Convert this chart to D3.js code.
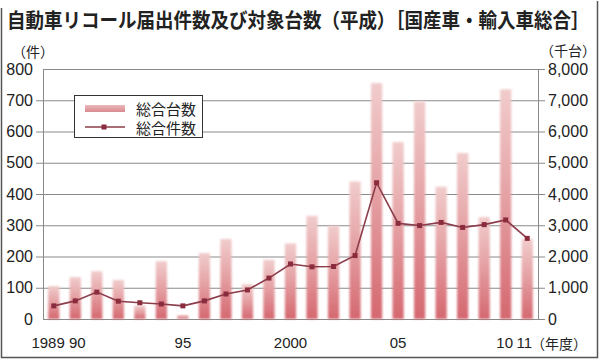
<!DOCTYPE html>
<html><head><meta charset="utf-8">
<script src="https://cdn.jsdelivr.net/npm/d3@7/dist/d3.min.js"></script>
<style>
html,body{margin:0;padding:0;background:#fff;}
svg{display:block;}
text{font-family:"Liberation Sans Narrow","Liberation Sans","Noto Sans CJK JP",sans-serif;fill:#222;}
.cjk{font-family:"Noto Sans CJK JP",sans-serif;}
</style></head>
<body>
<svg id="chart" width="600" height="360"></svg>
<script>
const years = [1989,1990,1991,1992,1993,1994,1995,1996,1997,1998,1999,2000,2001,2002,2003,2004,2005,2006,2007,2008,2009,2010,2011];
const yearLabels = ["1989","90","","","","","95","","","","","2000","","","","","05","","","","","10","11"];
// 総合台数 (thousand units, right axis)
const units = [1050,1340,1530,1250,430,1850,130,2110,2560,1110,1890,2420,3300,2980,4400,7550,5660,6960,4230,5310,3260,7350,2560];
// 総合件数 (cases, left axis)
const cases = [42,58,86,57,52,48,42,58,80,93,131,176,167,168,203,436,306,299,309,293,302,317,258];
const leftTicks = [0,100,200,300,400,500,600,700,800];
const rightTicks = [0,1000,2000,3000,4000,5000,6000,7000,8000];
const title = "自動車リコール届出件数及び対象台数（平成）［国産車・輸入車総合］";

const svg = d3.select("#chart");
const L = 43, R = 538, T = 69, B = 319;

const x = d3.scaleBand().domain(years).range([L, R]).paddingInner(0.48).paddingOuter(0.24);
const yL = d3.scaleLinear().domain([0, 800]).range([B, T]);
const yR = d3.scaleLinear().domain([0, 8000]).range([B, T]);

const defs = svg.append("defs");
const grad = defs.append("linearGradient").attr("id","barGrad").attr("x1",0).attr("y1",0).attr("x2",0).attr("y2",1);
grad.append("stop").attr("offset","0%").attr("stop-color","#f1cccc");
grad.append("stop").attr("offset","45%").attr("stop-color","#e5a3a6");
grad.append("stop").attr("offset","100%").attr("stop-color","#d56870");
const gradH = defs.append("linearGradient").attr("id","legGrad").attr("x1",0).attr("y1",0).attr("x2",0).attr("y2",1);
gradH.append("stop").attr("offset","0%").attr("stop-color","#eab8ba");
gradH.append("stop").attr("offset","100%").attr("stop-color","#d98a90");
const glow = defs.append("filter").attr("id","soft").attr("x","-50%").attr("y","-10%").attr("width","200%").attr("height","120%");
glow.append("feGaussianBlur").attr("stdDeviation",0.8);

// outer frame
svg.append("path").attr("d","M1.5,8 V357.5 H597.5 V1").attr("fill","none").attr("stroke","#555").attr("stroke-width",1.5);

// title
svg.append("text").attr("class","cjk").attr("transform","translate(7,20) scale(1,1.09)").attr("dominant-baseline","central")
  .attr("font-size",18.5).attr("font-weight","bold")
  .text(title);

// unit labels
svg.append("text").attr("class","cjk").attr("x",12).attr("y",51).attr("dominant-baseline","central").attr("font-size",14).text("（件）");
svg.append("text").attr("class","cjk").attr("x",596).attr("y",50).attr("text-anchor","end").attr("dominant-baseline","central").attr("font-size",14).text("（千台）");

// gridlines
svg.append("g").selectAll("line").data(leftTicks).join("line")
  .attr("x1", d => (d>0 && d<800) ? L-7 : L).attr("x2", R+7)
  .attr("y1", d => yL(d)+0.5).attr("y2", d => yL(d)+0.5)
  .attr("stroke","#8a8a8a").attr("stroke-width",1);

// axes via d3
const gL = svg.append("g").attr("transform",`translate(${L},0)`)
  .call(d3.axisLeft(yL).tickValues(leftTicks).tickSize(0).tickPadding(10).tickFormat(d3.format("d")));
gL.select(".domain").attr("stroke","#8a8a8a");
gL.selectAll("text").attr("font-size",16).attr("fill","#222");

const gR = svg.append("g").attr("transform",`translate(${R},0)`)
  .call(d3.axisRight(yR).tickValues(rightTicks).tickSize(0).tickPadding(10).tickFormat(d3.format(",")));
gR.select(".domain").attr("stroke","#8a8a8a");
gR.selectAll("text").attr("font-size",16).attr("fill","#222");

const gX = svg.append("g").attr("transform",`translate(0,${B})`)
  .call(d3.axisBottom(x).tickSize(0).tickPadding(18).tickFormat((d,i) => yearLabels[i]));
gX.select(".domain").remove();
gX.selectAll("text").attr("font-size",15).attr("fill","#222")
  .attr("text-anchor", d => d===1989 ? "end" : "middle")
  .attr("dx", d => d===1989 ? "11" : (d===1990 ? "2" : (d===2011 ? "-3" : (d===2010 ? "-1" : "0"))));
svg.append("text").attr("class","cjk").attr("x",531).attr("y",343).attr("dominant-baseline","central").attr("font-size",14).text("（年度）");

// bars
svg.append("g").selectAll("rect").data(years).join("rect")
  .attr("x", d => x(d)).attr("width", x.bandwidth())
  .attr("y", (d,i) => yR(units[i])).attr("height", (d,i) => B - yR(units[i]))
  .attr("fill","url(#barGrad)").attr("filter","url(#soft)");

// line
const line = d3.line().x((d,i) => x(years[i]) + x.bandwidth()/2).y(d => yL(d));
svg.append("path").datum(cases).attr("d", line).attr("fill","none").attr("stroke","#8c3c4a").attr("stroke-width",1.6);
svg.append("g").selectAll("rect").data(cases).join("rect")
  .attr("x",(d,i) => x(years[i]) + x.bandwidth()/2 - 2.5).attr("y", d => yL(d) - 2.5)
  .attr("width",5).attr("height",5).attr("fill","#8a2c3e");

// legend
const lg = svg.append("g");
lg.append("rect").attr("x",74.5).attr("y",95.5).attr("width",128).attr("height",42).attr("fill","#fff").attr("stroke","#333").attr("stroke-width",1);
lg.append("rect").attr("x",85).attr("y",105).attr("width",40).attr("height",7).attr("fill","url(#legGrad)");
lg.append("line").attr("x1",85).attr("x2",125).attr("y1",127).attr("y2",127).attr("stroke","#8c3c4a").attr("stroke-width",1.6);
lg.append("rect").attr("x",101.5).attr("y",124.5).attr("width",5).attr("height",5).attr("fill","#8a2c3e");
lg.append("text").attr("class","cjk").attr("x",136).attr("y",108).attr("dominant-baseline","central").attr("font-size",15).text("総合台数");
lg.append("text").attr("class","cjk").attr("x",136).attr("y",127).attr("dominant-baseline","central").attr("font-size",15).text("総合件数");
</script>
</body></html>
